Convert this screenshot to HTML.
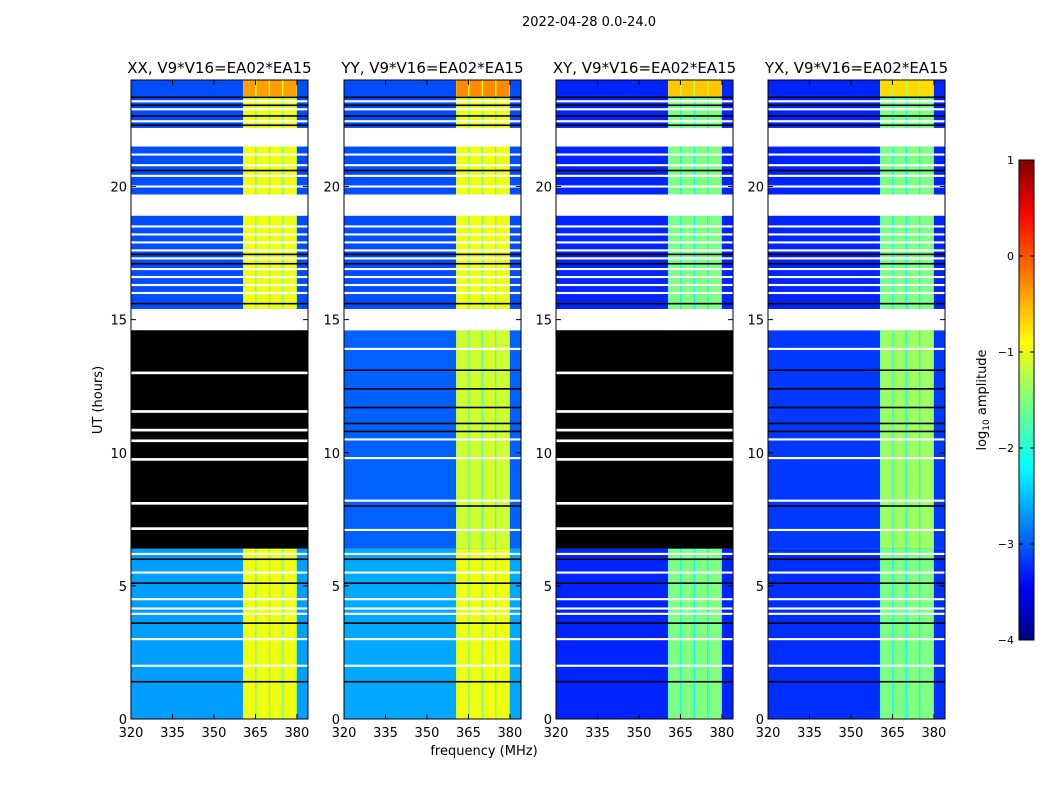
<!DOCTYPE html>
<html><head><meta charset="utf-8">
<style>
body{margin:0;background:#fff;width:1050px;height:800px;overflow:hidden;font-family:"DejaVu Sans","Liberation Sans",sans-serif;}
svg text{font-family:"DejaVu Sans","Liberation Sans",sans-serif;}
</style></head>
<body>
<svg id="fig" width="1050" height="800" xmlns="http://www.w3.org/2000/svg">
<text x="589" y="26" font-size="13" text-anchor="middle">2022-04-28 0.0-24.0</text>
<text x="484" y="755" font-size="13" text-anchor="middle">frequency (MHz)</text>
<text transform="translate(102,400) rotate(-90)" font-size="13" text-anchor="middle">UT (hours)</text>
<g id="panels"></g>
<defs><linearGradient id="jet" x1="0" y1="1" x2="0" y2="0">
<stop offset="0" stop-color="#00007f"/><stop offset="0.11" stop-color="#0000ff"/><stop offset="0.36" stop-color="#00ffff"/>
<stop offset="0.5" stop-color="#7dff7a"/><stop offset="0.62" stop-color="#ffff00"/><stop offset="0.89" stop-color="#ff0000"/><stop offset="1" stop-color="#7f0000"/></linearGradient></defs>
<rect x="1019" y="160" width="15" height="480" fill="url(#jet)" stroke="#000" stroke-width="1"/>
<g id="cbticks"></g>
<text transform="translate(986,400) rotate(-90)" font-size="13" text-anchor="middle">log<tspan font-size="9" dy="3">10</tspan><tspan dy="-3"> amplitude</tspan></text>
</svg>
<script>
const titles=["XX, V9*V16=EA02*EA15","YY, V9*V16=EA02*EA15","XY, V9*V16=EA02*EA15","YX, V9*V16=EA02*EA15"];
const panelX=[131,344,556,768];
const flaggedMid=[true,false,true,false];
const bgEarly=[-2.6,-2.55,-3.2,-3.15];
const bgMid=[-3.0,-2.9,-3.2,-3.1];
const bgLate=[-3.0,-3.0,-3.2,-3.2];
const bandLevel=[-0.95,-0.95,-1.5,-1.5];
const bandMid=[-0.95,-1.1,-1.5,-1.35];
const bandTop=[-0.4,-0.3,-0.6,-0.7];
const bands=[[360.6,364.9],[365.4,369.8],[370.3,374.6],[375.1,379.8]];
const bandRegion=[360.5,380];
const whiteGaps=[[14.6,15.4],[18.9,19.7],[21.5,22.2]];
const flagRange=[6.4,14.6];
const whiteLines=[2.0,3.0,3.95,4.15,4.5,5.5,6.2,16.0,16.3,16.6,16.9,17.3,17.6,17.9,18.2,18.5,20.0,20.4,20.8,21.2,22.45,22.9,23.2];
const blackLines=[1.4,3.6,5.1,6.0,15.6,17.1,17.45,20.6,22.3,22.65,23.05,23.35];
const flagWhite=[7.15,8.1,9.75,10.45,10.85,11.55,13.0];
const midWhite=[7.1,8.2,9.8,10.5,13.9];
const midBlack=[8.0,10.8,11.1,11.7,12.4,13.1];
const xTicks=[320,335,350,365,380];
const yTicks=[0,5,10,15,20];
const cbTicks=[1,0,-1,-2,-3,-4];

const NS="http://www.w3.org/2000/svg";
const W=177,Y0=719,PPH=(719-80)/24;
function yOf(t){return Y0-t*PPH;}
function jet(v){let t=Math.max(0,Math.min(1,(v+4)/5));
 const f=x=>Math.round(255*Math.max(0,Math.min(1,1.5-Math.abs(4*t-x))));
 return `rgb(${f(3)},${f(2)},${f(1)})`;}
function mk(tag,attrs,parent){const e=document.createElementNS(NS,tag);for(const k in attrs)e.setAttribute(k,attrs[k]);parent.appendChild(e);return e;}
const root=document.getElementById('panels');
titles.forEach((title,p)=>{
 const x0=panelX[p];
 const xOf=f=>x0+(f-320)*(W/64);
 const g=mk('g',{},root);
 
 
 const cell=(t0,t1,f0,f1,col,name)=>{const r=mk('rect',{x:xOf(f0),y:yOf(t1),width:xOf(f1)-xOf(f0),height:yOf(t0)-yOf(t1),fill:col},g);
  };
 const segs=[[0,6.4,bgEarly[p],bandLevel[p]],[6.4,14.6,bgMid[p],bandMid[p]],[15.4,23.4,bgLate[p],bandLevel[p]],[23.4,24,bgLate[p],bandTop[p]]];
 segs.forEach(s=>{
  cell(s[0],s[1],320,384,jet(s[2]),'heatmap-background');
  cell(s[0],s[1],bandRegion[0],bandRegion[1],jet(s[3]-0.6),'heatmap-band-region');
  bands.forEach(b=>cell(s[0],s[1],b[0],b[1],jet(s[3]),'heatmap-band'));
 });
 whiteGaps.forEach(gp=>cell(gp[0],gp[1],320,384,'#fff','white-gap'));
 whiteLines.forEach(t=>cell(t-0.04,t+0.04,320,384,'#fff','white-line'));
 blackLines.forEach(t=>cell(t-0.03,t+0.03,320,384,'#000','black-line'));
 if(flaggedMid[p]){
  cell(flagRange[0],flagRange[1],320,384,'#000','flagged-region');
  flagWhite.forEach(t=>cell(t-0.05,t+0.05,320,384,'#fff','flag-white-line'));
 } else {
  midWhite.forEach(t=>cell(t-0.04,t+0.04,320,384,'#fff','white-line'));
  midBlack.forEach(t=>cell(t-0.03,t+0.03,320,384,'#000','black-line'));
 }
 const fr=mk('rect',{x:x0,y:80,width:W,height:639,fill:'none',stroke:'#000','stroke-width':1},g);
 
 const tt=mk('text',{x:x0+W/2,y:73,'font-size':15,'text-anchor':'middle'},g);tt.textContent=title;
 
 xTicks.forEach(v=>{const x=xOf(v);
  mk('line',{x1:x,x2:x,y1:719,y2:714,stroke:'#000'},g);mk('line',{x1:x,x2:x,y1:80,y2:85,stroke:'#000'},g);
  const t=mk('text',{x:x,y:737,'font-size':13,'text-anchor':'middle'},g);t.textContent=v;
  });
 yTicks.forEach(v=>{const y=yOf(v);
  mk('line',{x1:x0,x2:x0+5,y1:y,y2:y,stroke:'#000'},g);mk('line',{x1:x0+W,x2:x0+W-5,y1:y,y2:y,stroke:'#000'},g);
  const t=mk('text',{x:x0-4,y:y+5,'font-size':13,'text-anchor':'end'},g);t.textContent=v;
  });
});
const cg=document.getElementById('cbticks');
cbTicks.forEach(v=>{const y=160+(1-v)*96;
 mk('line',{x1:1019,x2:1023,y1:y,y2:y,stroke:'#000'},cg);mk('line',{x1:1034,x2:1030,y1:y,y2:y,stroke:'#000'},cg);
 const t=mk('text',{x:1014,y:y+4,'font-size':11,'text-anchor':'end'},cg);t.textContent=v<0?'\u2212'+(-v):v;
 });
</script>
</body></html>
